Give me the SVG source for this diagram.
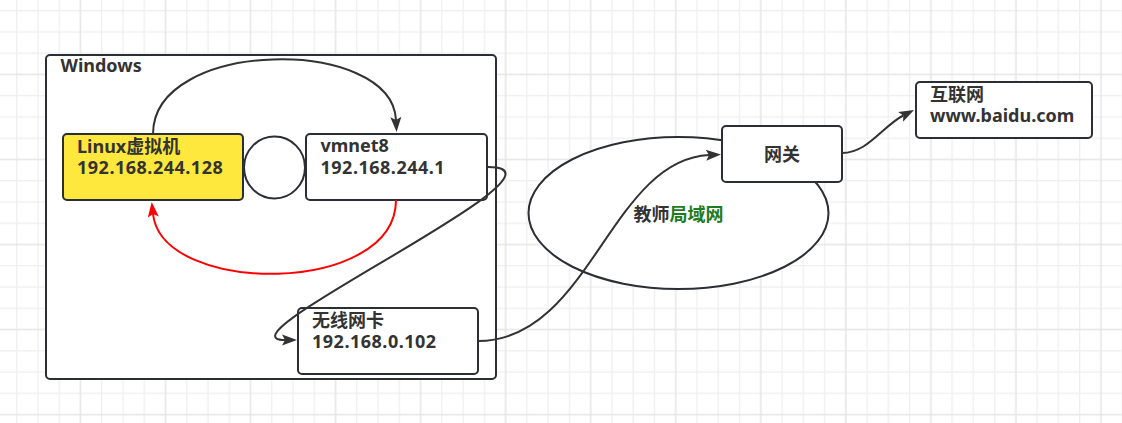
<svg xmlns="http://www.w3.org/2000/svg" width="1122" height="423" viewBox="0 0 1122 423">
<style>
.box{fill:#ffffff;stroke:#2b2e33;stroke-width:2}
.yel{fill:#ffe83d}
.t{font-family:"Noto Sans","Noto Sans CJK SC",sans-serif;font-weight:bold;font-size:18px;fill:#333333}
.ip{letter-spacing:0.5px}
.green{fill:#1e7b1e}
.conn{fill:none;stroke:#333333;stroke-width:2}
.red{stroke:#ff0000}
</style>
<defs>
<pattern id="grid" x="16" y="10" width="85.04" height="85.04" patternUnits="userSpaceOnUse">
<rect x="0" y="0" width="1.3" height="85.04" fill="#efefef"/>
<rect x="21.26" y="0" width="1.3" height="85.04" fill="#efefef"/>
<rect x="42.52" y="0" width="1.3" height="85.04" fill="#efefef"/>
<rect x="0" y="0" width="85.04" height="1.3" fill="#efefef"/>
<rect x="0" y="21.26" width="85.04" height="1.3" fill="#efefef"/>
<rect x="0" y="42.52" width="85.04" height="1.3" fill="#efefef"/>
<rect x="63.78" y="0" width="1.5" height="85.04" fill="#e5e5e5"/>
<rect x="0" y="63.78" width="85.04" height="1.5" fill="#e5e5e5"/>
</pattern>
<marker id="ah" markerUnits="userSpaceOnUse" markerWidth="16" markerHeight="12" refX="3" refY="5.5" orient="auto" overflow="visible">
<path d="M0,0 L15,5.5 L0,11 L3,5.5 Z" fill="#333333"/>
</marker>
<marker id="ahr" markerUnits="userSpaceOnUse" markerWidth="16" markerHeight="12" refX="3" refY="5.5" orient="auto" overflow="visible">
<path d="M0,0 L15,5.5 L0,11 L3,5.5 Z" fill="#ff0000"/>
</marker>
</defs>
<rect width="1122" height="423" fill="#ffffff"/>
<rect width="1122" height="423" fill="url(#grid)"/>

<g id="windows">
<rect class="box" x="46" y="55" width="450" height="324" rx="4"/>
<text class="t" x="60.5" y="71.5">Windows</text>
</g>

<g id="teacher-lan">
<ellipse class="box" cx="678.5" cy="213" rx="150" ry="76"/>
<text class="t" x="678.5" y="220.5" text-anchor="middle">教师<tspan class="green">局域网</tspan></text>
</g>

<g id="link-circle">
<ellipse class="box" cx="274.5" cy="167.5" rx="30.5" ry="31"/>
</g>

<g id="linux-vm">
<rect class="box yel" x="63" y="134" width="180" height="66" rx="4"/>
<text class="t" x="77" y="153">Linux虚拟机<tspan class="ip" x="77" y="174">192.168.244.128</tspan></text>
</g>

<g id="vmnet8">
<rect class="box" x="306" y="134" width="181" height="66" rx="4"/>
<text class="t" x="320.5" y="152">vmnet8<tspan class="ip" x="320.5" y="173.5">192.168.244.1</tspan></text>
</g>

<g id="wireless-nic">
<rect class="box" x="298" y="308" width="180" height="66" rx="4"/>
<text class="t" x="312" y="326.5">无线网卡<tspan class="ip" x="312" y="347.5">192.168.0.102</tspan></text>
</g>

<g id="gateway">
<rect class="box" x="722" y="126" width="120" height="56" rx="4"/>
<text class="t" x="782" y="160.5" text-anchor="middle">网关</text>
</g>

<g id="internet">
<rect class="box" x="916" y="82" width="176" height="56" rx="4"/>
<text class="t" x="930" y="100.5">互联网<tspan x="930" y="121.5">www.baidu.com</tspan></text>
</g>

<g id="connectors">
<path class="conn" d="M153,134 C153,38 392,36 396,120" marker-end="url(#ah)"/>
<path class="conn red" d="M396,200 C396,296 162,296 153,214" marker-end="url(#ahr)"/>
<path class="conn" d="M488,167 C590,167 210,340 285,340" marker-end="url(#ah)"/>
<path class="conn" d="M478,341 C590,341 610,160 709,155" marker-end="url(#ah)"/>
<path class="conn" d="M842,153 C868,153 883,125.7 903.3,115.5" marker-end="url(#ah)"/>
</g>
</svg>
